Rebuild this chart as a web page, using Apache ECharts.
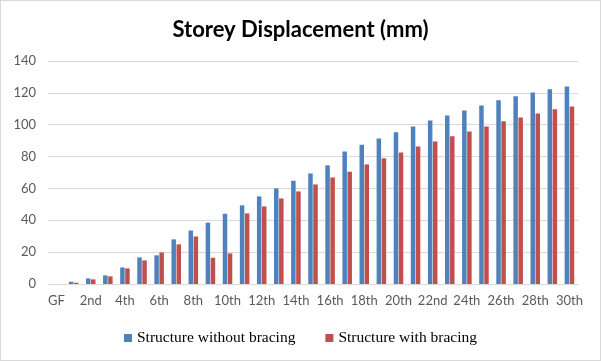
<!DOCTYPE html>
<html><head><meta charset="utf-8">
<script src="https://cdn.jsdelivr.net/npm/echarts@6/dist/echarts.min.js"></script>
<style>html,body{margin:0;padding:0;background:#fff}#c{width:599px;height:359px;border:1px solid #d9d9d9}</style>
</head><body><div id="c"></div>
<script>
const categories = ['GF','1st','2nd','3rd','4th','5th','6th','7th','8th','9th','10th','11th','12th','13th','14th','15th','16th','17th','18th','19th','20th','21st','22nd','23rd','24th','25th','26th','27th','28th','29th','30th'];
const withoutBracing = [0,1.4,3.5,5.4,10.4,16.7,18.0,28.0,33.6,38.5,44.1,49.4,55.0,60.0,64.8,69.4,74.5,83.2,87.4,91.4,95.2,98.9,102.7,105.8,109.0,112.1,115.3,117.8,120.3,122.2,124.0];
const withBracing = [0,0.8,2.9,4.8,9.8,14.8,19.8,24.9,29.8,16.5,19.2,44.3,48.7,53.7,58.1,62.5,66.9,70.5,75.1,78.9,82.6,86.4,89.5,92.7,95.8,98.9,102.1,104.6,107.1,109.7,111.5];
const seriesNames = ['Structure without bracing','Structure with bracing'];
const yTicks = {min:0, max:140, interval:20};

const chart = echarts.init(document.getElementById('c'));
chart.setOption({
  animation:false,
  title:{text:'Storey Displacement (mm)',left:'center',top:13,
    textStyle:{fontFamily:'Lato',fontWeight:'bold',fontSize:22,color:'#000'}},
  grid:{left:47,right:22,top:60,bottom:76,containLabel:false},
  legend:{bottom:9,left:'center',itemWidth:8,itemHeight:8,itemGap:30,icon:'rect',
    textStyle:{fontFamily:'Liberation Serif',fontSize:15.5,color:'#000'},
    data:seriesNames},
  xAxis:{type:'category',data:categories,
    axisLine:{lineStyle:{color:'#d9d9d9'}},axisTick:{show:false},
    axisLabel:{interval:1,color:'#595959',fontFamily:'Lato',fontSize:13,margin:10}},
  yAxis:{type:'value',min:yTicks.min,max:yTicks.max,interval:yTicks.interval,
    axisLine:{show:false},axisTick:{show:false},
    splitLine:{lineStyle:{color:'#d9d9d9'}},
    axisLabel:{color:'#595959',fontFamily:'Lato',fontSize:13,margin:12}},
  series:[
    {name:seriesNames[0],type:'bar',data:withoutBracing,barWidth:4.5,barGap:'12%',itemStyle:{color:'#4F81BD'}},
    {name:seriesNames[1],type:'bar',data:withBracing,barWidth:4.5,itemStyle:{color:'#C0504D'}}
  ]
});
</script></body></html>
